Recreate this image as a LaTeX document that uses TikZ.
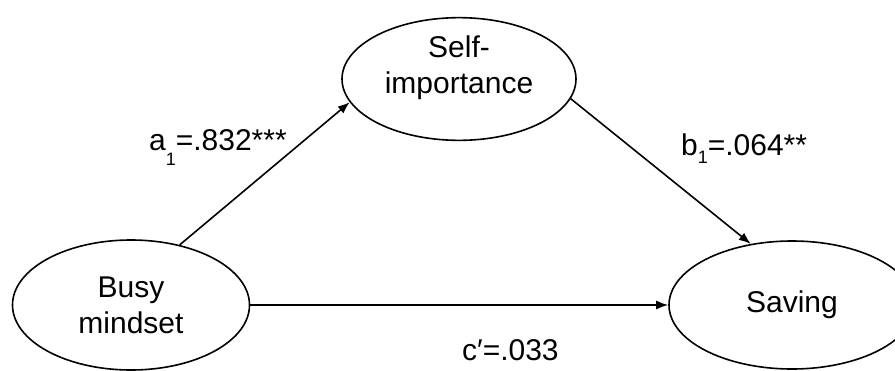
\documentclass[tikz,border=0pt]{standalone}
\usepackage{fontspec}
\setmainfont{Liberation Sans}
\usetikzlibrary{shapes.geometric,arrows.meta}
\newcommand{\idx}[2][11pt]{\raisebox{-#1}{\fontsize{18}{18}\selectfont #2}}

\begin{document}
\begin{tikzpicture}[x=1pt,y=-1pt,line width=1.6pt,>={Latex[length=12pt,width=9pt]},
    every node/.style={font=\fontsize{30}{36}\selectfont},
    var/.style={ellipse,draw,inner sep=0pt,align=center}]
    \useasboundingbox (0,0) rectangle (895,370);
    \node[var,minimum width=237,minimum height=130] (busy) at (131,305) {Busy\\mindset};
    \node[var,minimum width=234,minimum height=118,text depth=29pt] (self) at (459,79) {Self-\\importance};
    \node[var,minimum width=246,minimum height=128] (saving) at (792,305) {Saving};
    \node[anchor=base west] (acoef) at (145,150) {a\idx[15pt]{1}=.832***};
    \node[anchor=base west] (bcoef) at (677,155) {b\idx[8pt]{1}=.064**};
    \node[anchor=base west] (ccoef) at (458,360) {c′=.033};
    \path[->]
    (busy.51) edge (self.192)
    (self.-10) edge (saving.124)
    (busy) edge (saving)
    ;
  \end{tikzpicture}
\end{document}
